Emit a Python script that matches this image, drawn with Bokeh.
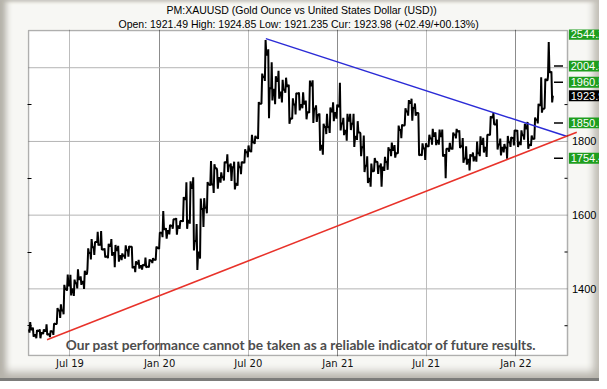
import pandas as pd
from bokeh.plotting import figure
from bokeh.models import (Range1d, FixedTicker, Grid, Label, Title, BoxAnnotation,
                          CustomJSTickFormatter)
from bokeh.core.properties import value
from bokeh.embed import file_html
from bokeh.resources import INLINE

# ---------------- data (weekly bars, week ending Friday) ----------------
first_week = "2019-04-12"
highs = [
    # 2019
    1310, 1295, 1288, 1290, 1290, 1304, 1287, 1306, 1348, 1358, 1411, 1439, 1438, 1425, 1453, 1434,
    1449, 1510, 1535, 1527, 1555, 1557, 1510, 1522, 1535, 1519, 1517, 1496, 1518, 1516, 1514, 1475,
    1479, 1466, 1485, 1480, 1483, 1515,
    # 2020
    1553, 1611, 1565, 1574, 1589, 1592, 1584, 1649, 1689, 1692, 1703, 1576, 1645, 1646, 1690, 1747,
    1738, 1722, 1716, 1745, 1765, 1740, 1745, 1745, 1745, 1779, 1789, 1818, 1815, 1907, 1984, 2075,
    2050, 2015, 1977, 1992, 1967, 1973, 1954, 1917, 1931, 1933, 1933, 1911, 1965, 1966, 1898, 1876,
    1848, 1875, 1892, 1906,
    # 2021
    1900, 1959, 1864, 1875, 1875, 1875, 1855, 1822, 1816, 1760, 1740, 1755, 1744, 1740, 1758, 1784,
    1797, 1790, 1843, 1846, 1890, 1912, 1916, 1903, 1877, 1795, 1795, 1818, 1834, 1825, 1832, 1832,
    1780, 1796, 1824, 1834, 1830, 1809, 1787, 1765, 1770, 1800, 1814, 1810, 1818, 1868, 1877, 1860,
    1808, 1793, 1815, 1812, 1831,
    # 2022
    1831, 1830, 1848, 1853, 1816, 1865, 1902, 1974, 1970, 2070, 1990,
]
lows = [
    # 2019
    1281, 1270, 1266, 1266, 1277, 1275, 1269, 1275, 1305, 1321, 1331, 1395, 1382, 1381, 1401, 1411,
    1400, 1455, 1480, 1492, 1518, 1506, 1485, 1483, 1490, 1459, 1474, 1478, 1482, 1487, 1456, 1445,
    1455, 1452, 1458, 1458, 1470, 1478,
    # 2020
    1508, 1540, 1536, 1548, 1563, 1547, 1563, 1582, 1563, 1577, 1504, 1451, 1482, 1568, 1605, 1680,
    1660, 1672, 1688, 1694, 1717, 1693, 1670, 1680, 1711, 1741, 1757, 1771, 1793, 1807, 1902, 1964,
    1863, 1911, 1901, 1916, 1906, 1932, 1848, 1861, 1873, 1884, 1890, 1860, 1877, 1850, 1853, 1775,
    1764, 1820, 1823, 1855,
    # 2021
    1862, 1830, 1817, 1802, 1831, 1785, 1804, 1760, 1717, 1687, 1677, 1720, 1712, 1677, 1720, 1723,
    1760, 1756, 1768, 1809, 1845, 1870, 1856, 1870, 1762, 1761, 1750, 1786, 1791, 1790, 1791, 1759,
    1700, 1772, 1778, 1808, 1782, 1742, 1737, 1721, 1746, 1745, 1760, 1770, 1758, 1817, 1846, 1778,
    1762, 1770, 1753, 1785, 1789,
    # 2022
    1785, 1790, 1805, 1780, 1788, 1806, 1849, 1878, 1890, 1977, 1906,
]
closes = [
    # 2019
    1290, 1275, 1286, 1280, 1286, 1277, 1284, 1305, 1341, 1341, 1399, 1409, 1399, 1415, 1426, 1419,
    1440, 1497, 1513, 1527, 1520, 1507, 1488, 1516, 1497, 1505, 1489, 1490, 1505, 1514, 1459, 1468,
    1462, 1464, 1460, 1476, 1479, 1511,
    # 2020
    1552, 1562, 1557, 1571, 1589, 1570, 1584, 1643, 1585, 1674, 1530, 1499, 1617, 1620, 1683, 1683,
    1727, 1701, 1703, 1743, 1735, 1730, 1685, 1730, 1743, 1771, 1775, 1798, 1810, 1902, 1975, 2035,
    1944, 1940, 1964, 1933, 1940, 1950, 1862, 1900, 1930, 1899, 1902, 1879, 1952, 1889, 1872, 1788,
    1839, 1839, 1881, 1877,
    # 2021
    1895, 1849, 1829, 1856, 1848, 1813, 1824, 1784, 1734, 1699, 1719, 1745, 1733, 1729, 1744, 1777,
    1777, 1768, 1831, 1843, 1881, 1904, 1891, 1877, 1764, 1781, 1787, 1808, 1815, 1802, 1814, 1763,
    1780, 1781, 1818, 1827, 1787, 1754, 1750, 1761, 1757, 1768, 1793, 1783, 1818, 1865, 1846, 1792,
    1783, 1783, 1798, 1809, 1829,
    # 2022
    1797, 1817, 1835, 1791, 1807, 1859, 1898, 1889, 1966, 1988, 1924,
]

tick_dates = ["2019-07-01", "2020-01-01", "2020-07-01", "2021-01-01", "2021-07-01", "2022-01-01"]
tick_labels = ["Jul 19", "Jan 20", "Jul 20", "Jan 21", "Jul 21", "Jan 22"]
grid_levels = [1400, 1600, 1800, 2000]
minor_levels = [1300, 1500, 1700, 1900]

resistance_dates = ["2020-08-06", "2022-04-15"]
resistance_values = [2079, 1814]
support_dates = ["2019-05-15", "2022-05-06"]
support_values = [1262, 1825]

target_levels = [2544.21, 2004.57, 1960.53, 1850.16, 1754.41]
current_price = 1923.98

title_1 = "PM:XAUUSD (Gold Ounce vs United States Dollar (USD))"
title_2 = "Open: 1921.49 High: 1924.85 Low: 1921.235 Cur: 1923.98 (+02.49/+00.13%)"
disclaimer = "Our past performance cannot be taken as a reliable indicator of future results."


def ms(d):
    return pd.Timestamp(d).value / 1e6


DAY = 86400000.0

# ---------------- geometry ----------------
BX0, BX1 = ms("2019-04-07"), ms("2022-04-17")   # chart box (dates)
BY0, BY1 = 1219.2, 2101.0                       # chart box (prices)
PXD = 539 / ((BX1 - BX0) / DAY)                 # px per day
PXU = 325 / (BY1 - BY0)                         # px per price unit


def dx(px):
    return px / PXD * DAY


def dy(px):
    return px / PXU


X0, X1 = BX0 - dx(1), BX1 + dx(32)
Y0, Y1 = BY0 - dy(1), BY1 + dy(1)

p = figure(width=599, height=381, x_axis_type="datetime",
           x_range=Range1d(X0, X1), y_range=Range1d(Y0, Y1),
           output_backend="svg", toolbar_location=None,
           min_border_left=27, min_border_right=0, min_border_top=29, min_border_bottom=25)
p.title.visible = False
p.background_fill_alpha = 0
p.border_fill_alpha = 0
p.outline_line_color = None
p.styles = {
    "background-color": "#f7f7f4",
    "box-shadow": ("inset 0 -3px 0 0 #7c7c7a, inset 0 -13px 8px -4px #b7b4ac, "
                   "inset -9px 0 7px -3px #c4c1b9, inset 8px 0 6px -2px #b3b0a8, "
                   "inset 0 3px 3px -1px #d6d3cc"),
}

# white chart box behind everything
p.add_layout(BoxAnnotation(left=BX0, right=BX1, bottom=BY0, top=BY1, fill_color="white",
                           fill_alpha=1, line_color=None, level="image"))

# vertical grid lines
jul_ms = [ms(d) for d in tick_dates if d.endswith("07-01")]
jan_ms = [ms(d) for d in tick_dates if d.endswith("01-01")]
p.xgrid.ticker = FixedTicker(ticks=jul_ms)
p.xgrid.grid_line_color = "#bdbdbd"
p.add_layout(Grid(dimension=0, ticker=FixedTicker(ticks=jan_ms), grid_line_color="#8c8c8c"))
p.ygrid.visible = False
# horizontal grid lines, only across the chart box
p.segment(x0=[BX0] * len(grid_levels), x1=[BX1] * len(grid_levels), y0=grid_levels, y1=grid_levels,
          line_color="#b4b4b4", line_width=1)

# bottom axis
tick_ms = [ms(d) for d in tick_dates]
xa = p.xaxis[0]
xa.ticker = FixedTicker(ticks=tick_ms)
xa.formatter = CustomJSTickFormatter(args=dict(tvals=tick_ms, tlabels=tick_labels), code="""
let best = 0, bd = Infinity;
for (let i = 0; i < tvals.length; i++) { const d = Math.abs(tvals[i] - tick); if (d < bd) { bd = d; best = i; } }
return tlabels[best];
""")
xa.axis_line_color = None
xa.major_tick_in = 0
xa.major_tick_out = 0
xa.minor_tick_in = 0
xa.minor_tick_out = 0
xa.major_label_standoff = 1
xa.major_label_text_font = "DejaVu Sans"
xa.major_label_text_font_size = "10px"
xa.major_label_text_color = "#111111"

# left axis (inward ticks only)
ya = p.yaxis[0]
ya.ticker = FixedTicker(ticks=minor_levels)
ya.major_label_overrides = {v: "" for v in minor_levels}
ya.major_label_standoff = 0
ya.axis_line_color = None
ya.major_tick_in = 4
ya.major_tick_out = 0
ya.minor_tick_in = 0
ya.minor_tick_out = 0
ya.major_tick_line_color = "black"

# right-hand price scale (drawn in the label column)
p.segment(x0=[BX1 - dx(3)] * len(minor_levels), x1=[BX1] * len(minor_levels),
          y0=minor_levels, y1=minor_levels, line_color="black", line_width=1)
scale_levels = [v for v in grid_levels if all(abs(v - t) > 10 for t in target_levels)]
p.text(x=[BX1 + dx(4.4)] * len(scale_levels), y=scale_levels, text=[str(v) for v in scale_levels],
       text_font=value("Liberation Sans"), text_font_size=value("11px"), text_color="black",
       text_baseline="middle", text_align="left")

# ---------------- price trace (zig-zag through weekly open / extremes / close) ----------------
week_ends = pd.date_range(first_week, periods=len(closes), freq="7D")
zx, zy = [], []
prev = closes[0]
for d, h, l, c in zip(week_ends, highs, lows, closes):
    f = ms(d)
    a, b = (l, h) if c >= prev else (h, l)
    zx += [f - 4 * DAY, f - 3 * DAY, f - 1.5 * DAY, f]
    zy += [prev, a, b, c]
    prev = c
p.line(zx, zy, line_color="black", line_width=2.0)

# trend lines
p.line([ms(d) for d in resistance_dates], resistance_values, line_color="#2b2bd6", line_width=1.5)
p.line([ms(d) for d in support_dates], support_values, line_color="#e8322a", line_width=1.5)

# target dashes near right edge
in_range = [v for v in target_levels if BY0 < v < BY1]
p.segment(x0=[BX1 - dx(13.5)] * len(in_range), x1=[BX1 - dx(4.5)] * len(in_range),
          y0=in_range, y1=in_range, line_color="black", line_width=1.5)

# price boxes in the label column
box_y = [v if v < BY1 else BY1 - dy(3.8) for v in target_levels] + [current_price]
box_txt = [f"{v:.2f}" for v in target_levels] + [f"{current_price:.2f}"]
box_col = ["#1e9e1e"] * len(target_levels) + ["black"]
p.quad(left=[BX1 + dx(1.4)] * len(box_y), right=[X1 + dx(5)] * len(box_y),
       top=[v + dy(5.4) for v in box_y], bottom=[v - dy(5.4) for v in box_y],
       fill_color=box_col, line_color=None)
p.text(x=[BX1 + dx(3.2)] * len(box_y), y=box_y, text=box_txt, text_font=value("Liberation Sans"),
       text_font_size=value("11px"), text_color="white", text_baseline="middle", text_align="left")

# chart box border
p.add_layout(BoxAnnotation(left=BX0, right=BX1, bottom=BY0, top=BY1, fill_alpha=0,
                           line_color="black", line_width=1.5))

# disclaimer
p.add_layout(Label(x=BX0 + dx(272.5), y=BY0 + dy(11.5), text=disclaimer, text_align="center",
                   text_baseline="middle", text_font="Lato", text_font_style="bold",
                   text_font_size="13.7px", text_color="#4d4d4d"))

# titles (line 2 first: it sits next to the chart)
p.add_layout(Title(text=title_2, align="left", offset=91, standoff=0, text_font="Liberation Sans",
                   text_font_size="10.5px", text_font_style="normal", text_color="black"), "above")
p.add_layout(Title(text=title_1, align="left", offset=139, standoff=0, text_font="Liberation Sans",
                   text_font_size="10.5px", text_font_style="normal", text_color="black"), "above")

open("out.html", "w").write(file_html(p, INLINE))
